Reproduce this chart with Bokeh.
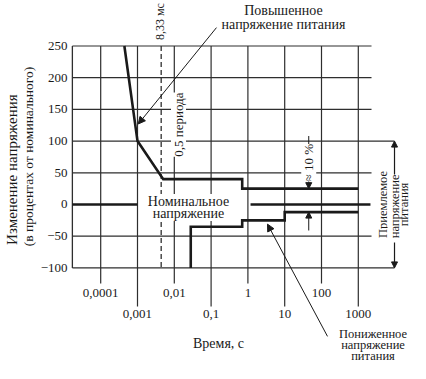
import numpy as np
from bokeh.plotting import figure
from bokeh.models import Range1d, Label, Arrow, NormalHead
from bokeh.core.properties import value
from bokeh.embed import file_html
from bokeh.resources import INLINE

# ---------------- data ----------------
y_ticks = [-100, -50, 0, 50, 100, 150, 200, 250]
y_tick_labels = ["\u2212100", "\u221250", "0", "50", "100", "150", "200", "250"]
x_ticks = [1e-4, 1e-3, 1e-2, 1e-1, 1, 10, 100, 1000]
x_tick_labels = ["0,0001", "0,001", "0,01", "0,1", "1", "10", "100", "1000"]

over_t = [0.00044, 0.001, 0.005, 0.7, 0.7, 1000]     # Повышенное напряжение
over_v = [250, 100, 40, 40, 25, 25]
under_t = [0.028, 0.028, 0.7, 0.7, 10, 10, 1000]     # Пониженное напряжение
under_v = [-100, -35, -35, -25, -25, -12, -12]
nominal_left_t = [1.7e-5, 0.001]
nominal_right_t = [1.18, 2140]
half_period_t = 0.0044                                 # 8,33 мс

T_MIN = 1.7e-5         # left edge of the grid
T_GRID_END = 2286      # right end of horizontal grid lines
T_ARROW = 10 ** 3.984  # "Приемлемое напряжение" bracket
FONT = "Liberation Serif"
INK = "#1a1a1a"
GRID = "#2e2e2e"

p = figure(width=410, height=363, x_axis_type="log",
           x_range=Range1d(10 ** -6.7228, 10 ** 4.4185),
           y_range=Range1d(-250.8, 321.77),
           output_backend="svg", toolbar_location=None,
           x_axis_location=None, y_axis_location=None, min_border=0)
p.grid.visible = False
p.outline_line_color = None
p.background_fill_color = "white"
p.border_fill_color = "white"

# horizontal grid lines (0 is the nominal line, drawn separately)
hx0, hy0, hx1, hy1 = [], [], [], []
for v in y_ticks:
    if v == 0:
        continue
    hx0.append(T_MIN); hy0.append(v)
    hx1.append(T_ARROW if v in (100, -100) else T_GRID_END); hy1.append(v)
p.segment(hx0, hy0, hx1, hy1, line_color=GRID, line_width=1.2)

# left axis line
p.segment([T_MIN], [min(y_ticks)], [T_MIN], [max(y_ticks)], line_color=GRID, line_width=1.3)

# vertical grid lines, extended below with staggered labels
vy_end = [-124.6 if i % 2 == 0 else -161 for i in range(len(x_ticks))]
p.segment(x_ticks, [max(y_ticks)] * len(x_ticks), x_ticks, vy_end, line_color=GRID, line_width=1.2)
lab_y = [-140 if i % 2 == 0 else -172 for i in range(len(x_ticks))]
p.text(x=x_ticks, y=lab_y, text=x_tick_labels, text_font=value(FONT), text_font_size="13px",
       text_align="center", text_baseline="middle", text_color=INK)

# y tick labels
p.text(x=[10 ** -4.902] * len(y_ticks), y=y_ticks, text=y_tick_labels, text_font=value(FONT),
       text_font_size="13px", text_align="right", text_baseline="middle", text_color=INK)

# dashed half-period line
p.line([half_period_t, half_period_t], [max(y_ticks), min(y_ticks)], line_color=GRID,
       line_width=1.3, line_dash="5 3")

# curves
p.line(over_t, over_v, line_color=INK, line_width=2.6, line_join="miter")
p.line(under_t, under_v, line_color=INK, line_width=2.6, line_join="miter")
p.line(nominal_left_t, [0, 0], line_color=INK, line_width=2.4)
p.line(nominal_right_t, [0, 0], line_color=INK, line_width=2.4)

# arrows / leaders
def arrow(x0, y0, x1, y1, size=7, lw=1.0):
    p.add_layout(Arrow(x_start=x0, y_start=y0, x_end=x1, y_end=y1, line_color=INK, line_width=lw,
                       end=NormalHead(size=size, fill_color=INK, line_color=INK, line_width=1)))

arrow(0.14, 279, 0.00105, 127)          # Повышенное
arrow(145.5, -208, 3.41, -31)            # Пониженное
arrow(45, 108, 45, 25, size=6)           # ≈10 % top
arrow(45, -41, 45, -12, size=6)          # ≈10 % bottom
arrow(T_ARROW, 41, T_ARROW, 100, size=6, lw=1.2)
arrow(T_ARROW, -60, T_ARROW, -100, size=6, lw=1.2)

def label(x, y, text, size="13px", angle=0.0, bg=None, align="center"):
    kw = dict(x=x, y=y, text=text, text_font=FONT, text_font_size=size, text_color=INK,
              text_align=align, text_baseline="middle", angle=angle)
    if bg:
        kw["background_fill_color"] = bg
    p.add_layout(Label(**kw))

label(9.27, 306, "Повышенное", size="14px")
label(9.27, 284, "напряжение питания", size="14px")
label(0.0243, 4.7, "Номинальное", size="14px", bg="white")
label(0.0243, -14.2, "напряжение", size="14px", bg="white")
label(0.013, 126, "0,5 периода", angle=np.pi / 2, bg="white")
label(0.0042, 288.6, "8,33 мс", size="12px", angle=np.pi / 2)
label(45, 66, "\u2248 10 %", angle=np.pi / 2, bg="white")
label(10 ** 3.658, 0, "Приемлемое", size="12.5px", angle=np.pi / 2, bg="white")
label(T_ARROW, -3, "напряжение", size="12.5px", angle=np.pi / 2, bg="white")
label(10 ** 4.255, 0, "питания", size="12.5px", angle=np.pi / 2)
label(10 ** 3.4, -203.5, "Пониженное", size="12.5px")
label(10 ** 3.4, -222.4, "напряжение", size="12.5px")
label(10 ** 3.4, -239.7, "питания", size="12.5px")
label(0.159, -219, "Время, с", size="14px")
label(10 ** -6.397, 55, "Изменение напряжения", size="15px", angle=np.pi / 2)
label(10 ** -5.962, 75.7, "(в процентах от номинального)", size="13.5px", angle=np.pi / 2)

open("out.html", "w").write(file_html(p, INLINE))
